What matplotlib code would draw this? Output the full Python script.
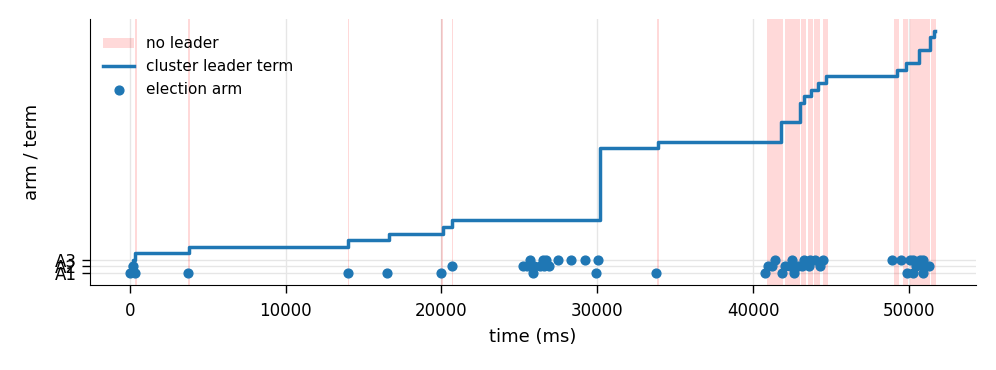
import matplotlib
matplotlib.use("Agg")
from matplotlib import pyplot as plt

# leader term over time (steps)
term_t = [0, 200, 350, 3800, 14000, 16620, 20065, 20700, 30150, 33870,
          41800, 42990, 43290, 43740, 44200, 44700, 49230, 49830, 50680,
          51370, 51640, 51700]
term_v = [2, 3, 4, 5, 6, 7, 8, 9, 20, 21,
          24, 27, 28, 29, 30, 31, 32, 33, 35,
          37, 38, 38]

# election starts: time and arm (1=A1, 2=A2, 3=A3)
elect_t = [0, 200, 350, 3720, 13970, 16500, 19960, 20670,
           25250, 25510, 25680, 25870, 25940, 26320, 26510, 26580, 26730, 26900,
           27470, 28330, 29200, 29890, 30040, 33800,
           40740, 40990, 41210, 41380, 41860, 42070, 42350, 42500, 42600, 42860,
           43140, 43240, 43560, 43670, 43990, 44310, 44460,
           48910, 49490, 49870, 50080, 50290, 50290, 50450, 50720, 50900, 50900,
           50940, 51320]
elect_arm = [1, 2, 1, 1, 1, 1, 1, 2,
             2, 2, 3, 1, 2, 2, 3, 2, 3, 2,
             3, 3, 3, 1, 3, 1,
             1, 2, 2, 3, 1, 2, 2, 3, 1, 2,
             2, 3, 2, 3, 3, 2, 3,
             3, 3, 1, 3, 3, 1, 2, 3, 2, 1,
             3, 2]

# periods without leader (start, end)
gap_start = [350, 3750, 13980, 20000, 20650, 33850,
             40900, 42070, 43080, 43530, 43930, 44520,
             49060, 49650, 50080, 50680, 51410]
gap_end = [450, 3850, 14080, 20100, 20750, 33950,
           41900, 42990, 43400, 43880, 44310, 44810,
           49400, 49970, 50680, 51370, 51730]

arm_ticks = [1, 2, 3]
arm_labels = ["A1", "A2", "A3"]

fig, ax = plt.subplots(figsize=(9.96, 3.7), dpi=100)

for i, (s, e) in enumerate(zip(gap_start, gap_end)):
    ax.axvspan(s, e, color="red", alpha=0.15, lw=0,
               label="no leader" if i == 0 else None)

ax.step(term_t, term_v, where="post", color="#1f77b4", lw=2.5,
        label="cluster leader term")
ax.scatter(elect_t, elect_arm, s=40, color="#1f77b4", zorder=3,
           label="election arm")

ax.set_yticks(arm_ticks)
ax.set_yticklabels(arm_labels)
ax.tick_params(labelsize=12, length=6, width=1)
ax.tick_params(axis="x", pad=6)
ax.grid(True, color="#e6e6e6", lw=1)
ax.set_axisbelow(True)
ax.spines["top"].set_visible(False)
ax.spines["right"].set_visible(False)
ax.set_xlabel("time (ms)", fontsize=13, labelpad=6)
ax.set_ylabel("arm / term", fontsize=13, labelpad=10)
ax.legend(loc="upper left", frameon=False, fontsize=11,
          bbox_to_anchor=(0.0, 0.985))

plt.subplots_adjust(left=0.09, right=0.98, top=0.95, bottom=0.23)
plt.savefig("out.png")
